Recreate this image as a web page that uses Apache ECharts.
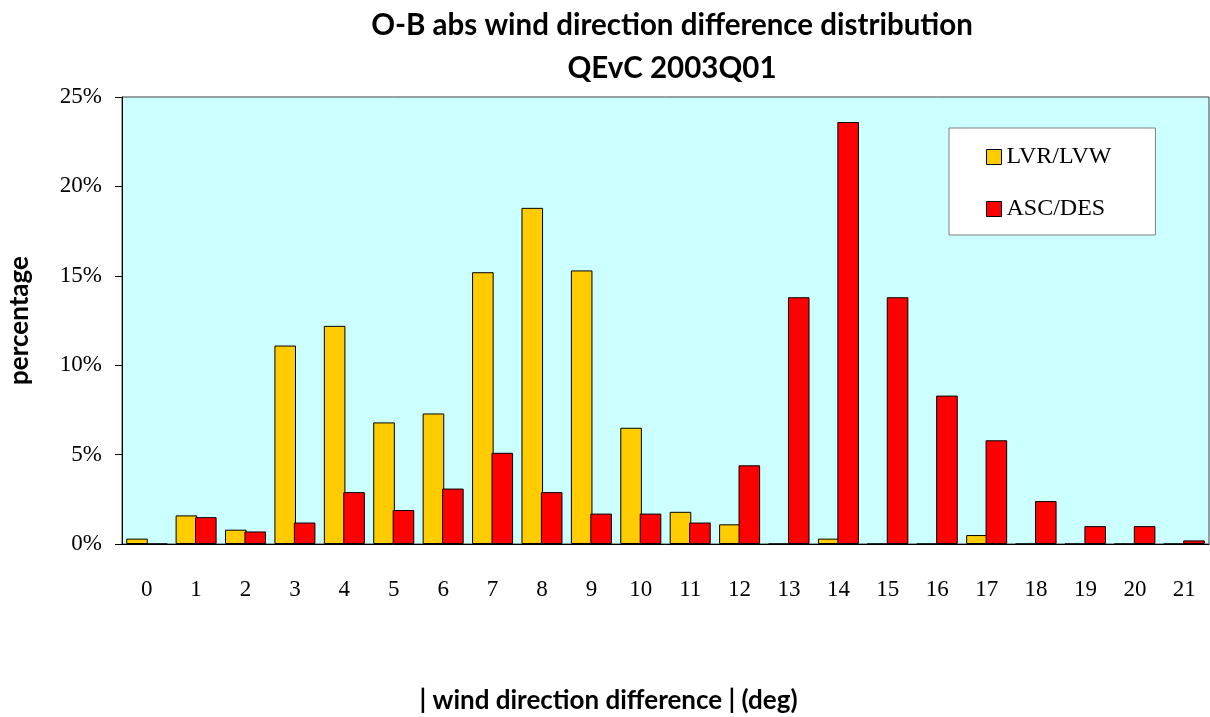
<!DOCTYPE html>
<html>
<head>
<meta charset="utf-8">
<script src="https://cdn.jsdelivr.net/npm/echarts@6/dist/echarts.min.js"></script>
<style>html,body{margin:0;padding:0;background:#fff}#c{width:1210px;height:717px}</style>
</head>
<body>
<div id="c"></div>
<script>
const categories = ['0','1','2','3','4','5','6','7','8','9','10','11','12','13','14','15','16','17','18','19','20','21'];
const lvrLvw = [0.3,1.6,0.8,11.1,12.2,6.8,7.3,15.2,18.8,15.3,6.5,1.8,1.1,0,0.3,0,0,0.5,0,0,0,0];
const ascDes = [0,1.5,0.7,1.2,2.9,1.9,3.1,5.1,2.9,1.7,1.7,1.2,4.4,13.8,23.6,13.8,8.3,5.8,2.4,1.0,1.0,0.2];
const yTicks = [0,5,10,15,20,25];

const serif = '"Liberation Serif", "DejaVu Serif", serif';
const sans = 'Lato, "Open Sans", sans-serif';

const chart = echarts.init(document.getElementById('c'), null, {renderer:'canvas'});
chart.setOption({
  animation:false,
  backgroundColor:'#ffffff',
  title:{
    text:'O-B abs wind direction difference distribution\nQEvC 2003Q01',
    left:667, top:-1, textAlign:'center',
    textStyle:{fontFamily:sans, fontWeight:'bold', fontSize:29.5, lineHeight:43, color:'#000'}
  },
  legend:{
    orient:'vertical', left:949, top:128,
    padding:[17,44,14,37], itemGap:28, itemWidth:15, itemHeight:15,
    icon:'rect',
    backgroundColor:'#ffffff', borderColor:'#808080', borderWidth:1,
    textStyle:{fontFamily:serif, fontSize:24, color:'#000'},
    itemStyle:{borderColor:'#000', borderWidth:1},
    data:['LVR/LVW','ASC/DES']
  },
  grid:{left:122, right:1, top:97, bottom:173, containLabel:false, outerBoundsMode:'none',
        show:true, backgroundColor:'#CCFFFF', borderColor:'#404040', borderWidth:1},
  xAxis:{
    type:'category', data:categories,
    axisLine:{lineStyle:{color:'#000', width:1}},
    axisTick:{show:false},
    axisLabel:{fontFamily:serif, fontSize:23, color:'#000', margin:34},
    name:'| wind direction difference | (deg)', nameLocation:'middle', nameGap:144,
    nameTextStyle:{fontFamily:sans, fontWeight:'bold', fontSize:26, color:'#000', padding:[0,114,0,0]}
  },
  yAxis:{
    type:'value', min:yTicks[0], max:yTicks[yTicks.length-1], interval:5,
    axisLine:{show:true, lineStyle:{color:'#000', width:1}},
    axisTick:{show:true, length:7, lineStyle:{color:'#000'}},
    splitLine:{show:false},
    axisLabel:{fontFamily:serif, fontSize:23, color:'#000', margin:20, formatter:'{value}%'},
    name:'percentage', nameLocation:'middle', nameGap:89,
    nameTextStyle:{fontFamily:sans, fontWeight:'bold', fontSize:26, color:'#000'}
  },
  series:[
    {name:'LVR/LVW', type:'bar', data:lvrLvw, barGap:'-10%', barCategoryGap:'17%',
     itemStyle:{color:'#FFCC00', borderColor:'#000', borderWidth:1}},
    {name:'ASC/DES', type:'bar', data:ascDes,
     itemStyle:{color:'#FF0000', borderColor:'#000', borderWidth:1}}
  ]
});
</script>
</body>
</html>
